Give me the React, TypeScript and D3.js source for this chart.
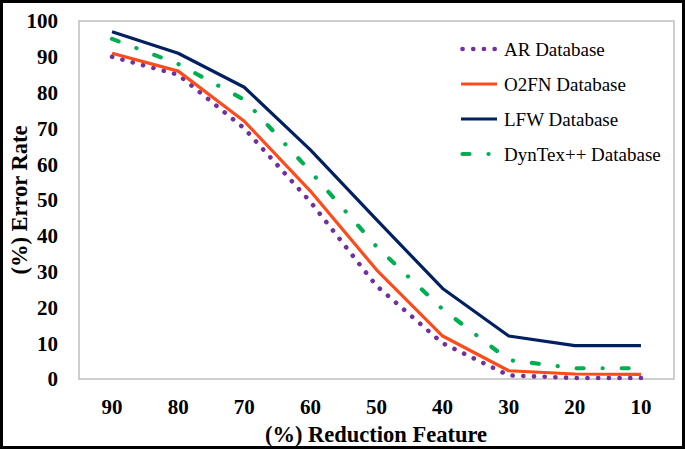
import React from "react";
import * as d3 from "d3";

const categories = ["90", "80", "70", "60", "50", "40", "30", "20", "10"];
const arValues = [90, 85, 70, 49.5, 26, 10, 1, 0.3, 0.3];
const o2fnValues = [91, 86, 72, 52.5, 30.5, 12, 2.3, 1.4, 1.3];
const lfwValues = [97, 91, 81.5, 64, 44.5, 25.3, 12, 9.3, 9.3];
const dyntexValues = [95, 88, 78, 58, 37, 19.5, 5.3, 3, 3];
const yTicks = [0, 10, 20, 30, 40, 50, 60, 70, 80, 90, 100];

const W = 685;
const H = 449;
const plot = { left: 79, right: 674, top: 21, bottom: 379 };

const series = [
  { name: "AR Database", values: arValues, color: "#7030A0", width: 4.6, dash: "0.1 10.6", cap: "round" },
  { name: "O2FN Database", values: o2fnValues, color: "#FF4A1C", width: 3.2, dash: "", cap: "butt" },
  { name: "LFW Database", values: lfwValues, color: "#002060", width: 3.2, dash: "", cap: "butt" },
  { name: "DynTex++ Database", values: dyntexValues, color: "#00B050", width: 4.2, dash: "7 19 0.1 19", cap: "round" },
];

const font = '"Liberation Serif", "DejaVu Serif", serif';

export default function App() {
  const x = d3.scaleBand<string>().domain(categories).range([plot.left, plot.right]);
  const y = d3.scaleLinear().domain([0, 100]).range([plot.bottom, plot.top]);
  const line = d3
    .line<number>()
    .x((_, i) => (x(categories[i]) as number) + x.bandwidth() / 2)
    .y((d) => y(d));

  const legendX = 461;
  const legendY0 = 49;
  const legendDy = 35;
  const ts = { fontFamily: font };

  return (
    <svg width={W} height={H} style={{ position: "absolute", left: 0, top: 0, background: "#fff" }}>
      <rect x={1.5} y={1.5} width={W - 3} height={H - 3} fill="#fff" stroke="#000" strokeWidth={3} />
      <rect
        x={plot.left}
        y={plot.top}
        width={plot.right - plot.left}
        height={plot.bottom - plot.top}
        fill="none"
        stroke="#BFBFBF"
        strokeWidth={1.5}
      />
      {yTicks.map((t) => (
        <text key={t} x={58} y={y(t)} dy="0.35em" textAnchor="end" fontSize={21} fontWeight="bold" style={ts}>
          {t}
        </text>
      ))}
      {categories.map((c) => (
        <text
          key={c}
          x={(x(c) as number) + x.bandwidth() / 2}
          y={407}
          dy="0.35em"
          textAnchor="middle"
          fontSize={21}
          fontWeight="bold"
          style={ts}
        >
          {c}
        </text>
      ))}
      <text x={376} y={434} dy="0.35em" textAnchor="middle" fontSize={22.5} fontWeight="bold" style={ts}>
        (%) Reduction Feature
      </text>
      <text
        transform={`translate(19,200) rotate(-90)`}
        dy="0.35em"
        textAnchor="middle"
        fontSize={22.5}
        fontWeight="bold"
        style={ts}
      >
        (%) Error Rate
      </text>
      {series.map((s) => (
        <path
          key={s.name}
          d={line(s.values) || ""}
          fill="none"
          stroke={s.color}
          strokeWidth={s.width}
          strokeDasharray={s.dash || undefined}
          strokeLinecap={s.cap as any}
          strokeLinejoin="round"
        />
      ))}
      {series.map((s, i) => {
        const ly = legendY0 + i * legendDy;
        return (
          <g key={s.name}>
            <line
              x1={legendX + (s.cap === "round" ? 1.5 : 0)}
              x2={legendX + 36}
              y1={ly}
              y2={ly}
              stroke={s.color}
              strokeWidth={s.width}
              strokeDasharray={s.dash || undefined}
              strokeLinecap={s.cap as any}
            />
            <text x={504} y={ly} dy="0.35em" fontSize={19} style={ts}>
              {s.name}
            </text>
          </g>
        );
      })}
    </svg>
  );
}
